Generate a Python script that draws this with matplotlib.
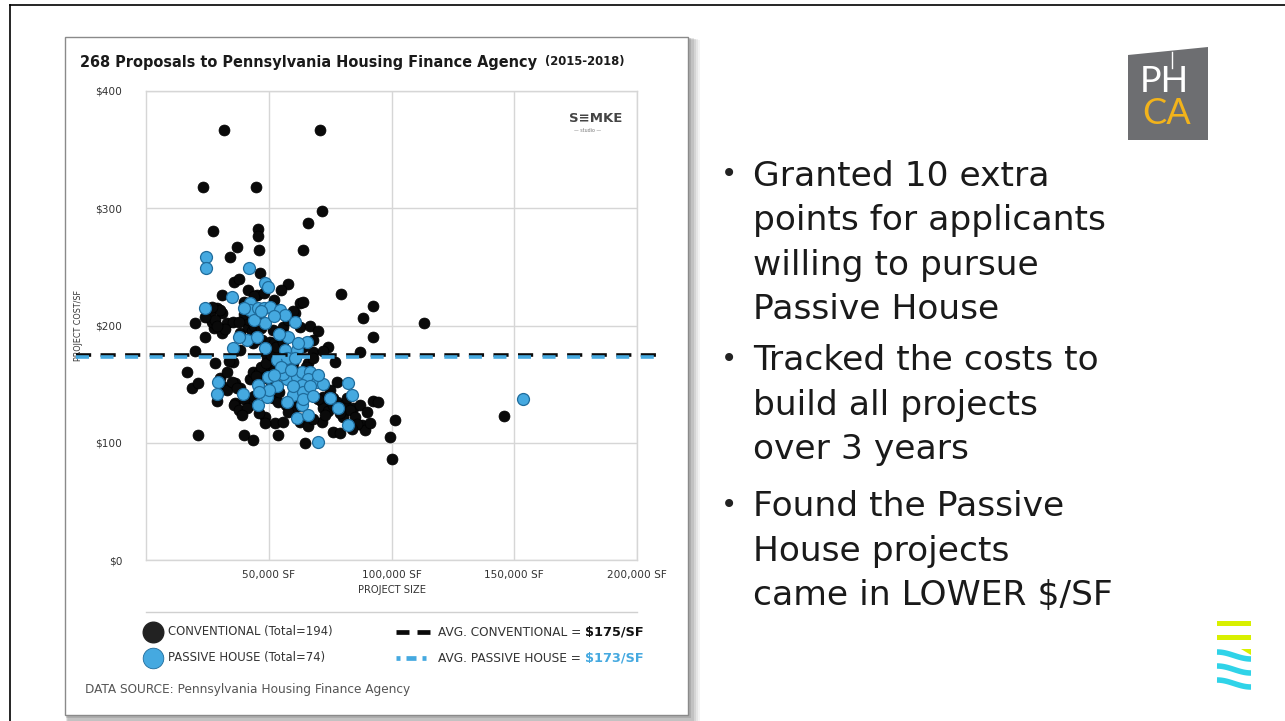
import matplotlib.pyplot as plt
import matplotlib.patches as mpatches
import numpy as np

# ── data: project size (thousand SF) and cost ($/SF) ────────────────────────
conv_size_k = [31.8, 70.9, 23.2, 44.8, 71.7, 66.0, 27.3, 45.6, 45.6, 37.1,
               46.0, 64.0, 34.2, 46.5, 35.9, 41.6, 45.2, 31.0, 57.9, 79.5,
               62.8, 64.0, 92.5, 88.4, 60.7, 113.3, 28.9, 31.0, 51.8, 26.1,
               20.0, 27.7, 31.0, 33.0, 35.5, 38.3, 41.6, 44.4, 51.8, 55.8,
               56.6, 62.8, 92.5, 43.6, 47.3, 50.5, 49.3, 38.3, 64.0, 74.2,
               77.0, 68.1, 87.2, 16.7, 18.7, 21.2, 28.9, 36.3, 38.3, 42.4,
               43.6, 49.3, 36.3, 42.4, 48.5, 51.8, 53.4, 53.8, 61.9, 72.1,
               71.7, 75.0, 76.2, 80.3, 77.8, 84.4, 87.2, 92.5, 94.5, 71.7,
               76.2, 79.1, 80.3, 88.0, 89.2, 91.3, 101.5, 99.4, 100.2, 21.2,
               39.9, 43.6, 53.8, 52.6, 48.5, 64.8, 62.8, 145.9, 26.9, 35.5,
               43, 44, 45, 46, 42, 47, 40, 38,
               46, 48, 50, 51, 47, 52, 45, 49,
               72, 74, 76, 78, 81, 83, 70, 79, 73, 82, 85,
               50, 52, 54, 55, 51, 53, 56,
               31, 33, 35, 37, 30, 33,
               36, 38, 40, 41, 39,
               57, 59, 60, 61, 58, 62, 63,
               26, 28, 30, 32, 29, 24, 27,
               58, 60, 62, 56, 66, 68, 65,
               44, 48, 40, 52, 55, 38,
               67, 70, 68, 72, 58, 60,
               86, 84, 90, 66, 68, 56, 46, 44,
               34, 28, 47, 54, 64, 75, 20, 24]
conv_cost = [367, 367, 318, 318, 298, 287, 281, 282, 276, 267,
             264, 264, 258, 245, 237, 230, 226, 226, 235, 227,
             219, 220, 217, 206, 211, 202, 215, 211, 217, 206,
             202, 198, 194, 202, 203, 194, 199, 205, 196, 199,
             192, 199, 190, 185, 188, 186, 173, 179, 182, 182,
             169, 177, 177, 160, 147, 151, 136, 151, 147, 154,
             160, 162, 134, 132, 122, 138, 149, 135, 141, 139,
             135, 135, 138, 128, 152, 130, 132, 136, 135, 118,
             109, 108, 122, 115, 111, 117, 119, 105, 86, 107,
             107, 102, 107, 117, 117, 100, 118, 123, 203, 169,
             195, 200, 192, 208, 205, 198, 210, 203,
             160, 155, 158, 152, 165, 163, 157, 168,
             130, 127, 132, 135, 133, 128, 137, 125, 124, 138, 122,
             180, 185, 176, 190, 175, 182, 186,
             148, 145, 152, 147, 155, 160,
             132, 128, 137, 130, 124,
             132, 137, 128, 135, 126, 140, 131,
             210, 205, 213, 197, 200, 207, 216,
             165, 168, 160, 170, 168, 172, 165,
             225, 228, 220, 222, 230, 240,
             200, 195, 188, 178, 205, 212,
             116, 112, 126, 114, 120, 118, 125, 140,
             170, 168, 145, 143, 150, 145, 178, 190]

ph_size_k = [24.5, 24.5, 42.0, 48.5, 49.7, 35.0, 24.0, 42.4, 42.4, 45.6,
             48.1, 50.5, 54.6, 56.6, 60.7, 48.5, 41.2, 45.2, 48.5, 35.5,
             56.6, 61.5, 65.6, 53.4, 57.5, 60.7, 29.3, 28.9, 39.5, 45.6,
             49.7, 49.3, 45.6, 53.4, 57.5, 59.9, 57.5, 55.8, 61.5, 63.6,
             66.8, 66.0, 69.7, 63.6, 64.0, 66.8, 63.6, 78.2, 82.3, 83.9,
             61.5, 66.0, 82.3, 70.1, 153.6,
             44, 47, 52, 58, 62, 55, 52, 60, 64, 68,
             72, 70, 50, 46, 40, 38, 54, 59, 75]
ph_cost = [258, 249, 249, 236, 233, 224, 215, 219, 213, 215,
           215, 216, 213, 209, 203, 202, 188, 190, 181, 181,
           179, 179, 186, 171, 172, 172, 152, 142, 142, 149,
           156, 139, 132, 148, 154, 141, 135, 159, 156, 160,
           160, 154, 152, 149, 143, 148, 132, 130, 151, 141,
           121, 124, 115, 101, 137,
           205, 212, 208, 190, 185, 165, 158, 148, 137, 140,
           150, 158, 145, 143, 215, 190, 193, 162, 138]

avg_conv = 175
avg_ph = 173
n_conv = 194
n_ph = 74

x_ticks = [50000, 100000, 150000, 200000]
y_ticks = [0, 100, 200, 300, 400]

BLACK = "#0a0a0a"
BLUE = "#45a9e0"
BLUE_EDGE = "#1f6c9c"
GRID = "#d6d6d6"
TXT = "#333333"
CHART_FONT = "DejaVu Sans"

W, H = 1285, 721
fig = plt.figure(figsize=(W / 100, H / 100), dpi=100)
fig.patch.set_facecolor("white")

# background canvas in pixel coordinates
bg = fig.add_axes([0, 0, 1, 1])
bg.set_xlim(0, W)
bg.set_ylim(H, 0)
bg.axis("off")

# slide frame
bg.plot([10, W], [5, 5], color="black", lw=1.2)
bg.plot([10, 10], [5, H], color="black", lw=1.2)

# chart card with soft shadow
for i, a in enumerate([0.06, 0.08, 0.10, 0.13, 0.16]):
    off = 10 - i * 1.8
    bg.add_patch(mpatches.Rectangle((65 + off * 0.3, 37 + off * 0.3), 623 + off * 0.9, 678 + off * 0.9,
                                    facecolor="#444444", edgecolor="none", alpha=a, zorder=1))
bg.add_patch(mpatches.Rectangle((65, 37), 623, 678, facecolor="white",
                                edgecolor="#8a8a8a", lw=1.0, zorder=2))

# title
t1 = bg.text(80, 62, "268 Proposals to Pennsylvania Housing Finance Agency", fontsize=10.45,
             fontweight="bold", family=CHART_FONT, color="#1a1a1a", va="center", zorder=3)
bg.annotate("  (2015-2018)", xy=(1, 0.5), xycoords=t1, fontsize=8.4, fontweight="bold",
            family=CHART_FONT, color="#1a1a1a", va="center", zorder=3)

# ── scatter axes ────────────────────────────────────────────────────────────
ax_l, ax_r, ax_t, ax_b = 146, 637, 91, 560
ax = fig.add_axes([ax_l / W, 1 - ax_b / H, (ax_r - ax_l) / W, (ax_b - ax_t) / H])
ax.set_facecolor("none")
ax.set_xlim(0, 200000)
ax.set_ylim(0, 400)
for s in ax.spines.values():
    s.set_color(GRID)
    s.set_linewidth(1.0)
ax.set_xticks(x_ticks)
ax.set_yticks(y_ticks)
ax.grid(True, color=GRID, lw=1.0)
ax.tick_params(length=0, colors=TXT, labelsize=7.6)
ax.tick_params(axis="x", pad=7)
ax.tick_params(axis="y", pad=17)
ax.set_xticklabels([f"{v:,} SF" for v in x_ticks], family=CHART_FONT)
ax.set_yticklabels([f"\\${v}" for v in y_ticks], family=CHART_FONT)
ax.set_xlabel("PROJECT SIZE", fontsize=7.2, color=TXT, family=CHART_FONT, labelpad=4)
ax.set_ylabel("PROJECT COST/SF", fontsize=5.8, color=TXT, family=CHART_FONT, labelpad=9)

ax.scatter(np.array(conv_size_k) * 1000, conv_cost, s=62, color=BLACK, edgecolor="#000000",
           lw=0.5, zorder=3)
ax.scatter(np.array(ph_size_k) * 1000, ph_cost, s=74, color=BLUE, edgecolor=BLUE_EDGE,
           lw=0.9, zorder=4)

# average lines run past the frame on both sides
ax.plot([-28500, 211000], [avg_conv, avg_conv], color=BLACK, lw=2.6, dashes=(4.2, 2.6),
        clip_on=False, zorder=5, dash_capstyle="butt")
ax.plot([-28500, 211000], [avg_ph, avg_ph], color=BLUE, lw=2.6, dashes=(3.6, 3.2),
        dash_capstyle="butt", clip_on=False, zorder=5)

# studio mark
ax.text(0.97, 0.942, "S\u2261MKE", transform=ax.transAxes, ha="right", va="center",
        fontsize=9.5, fontweight="bold", family="DejaVu Sans", color="#444444")
ax.text(0.9, 0.915, "\u2014 studio \u2014", transform=ax.transAxes, ha="center", va="center",
        fontsize=3.4, color="#777777")

# ── legend block ────────────────────────────────────────────────────────────
bg.plot([146, 637], [612, 612], color="#d0d0d0", lw=1.0, zorder=3)
bg.scatter([153], [632], s=220, color="#222222", zorder=3)
bg.scatter([153], [658], s=220, color=BLUE, edgecolor=BLUE_EDGE, lw=0.6, zorder=3)
bg.text(168, 632, f"CONVENTIONAL (Total={n_conv})", fontsize=8.4, color=TXT, family=CHART_FONT,
        va="center", zorder=3)
bg.text(168, 658, f"PASSIVE HOUSE (Total={n_ph})", fontsize=8.4, color=TXT, family=CHART_FONT,
        va="center", zorder=3)

bg.plot([396, 409], [632, 632], color=BLACK, lw=3.4, zorder=3, solid_capstyle="butt")
bg.plot([417, 430], [632, 632], color=BLACK, lw=3.4, zorder=3, solid_capstyle="butt")
bg.plot([396, 400], [658, 658], color=BLUE, lw=3.4, zorder=3, solid_capstyle="butt")
bg.plot([406, 416], [658, 658], color=BLUE, lw=3.4, zorder=3, solid_capstyle="butt")
bg.plot([422, 426], [658, 658], color=BLUE, lw=3.4, zorder=3, solid_capstyle="butt")

l1 = bg.text(438, 632, "AVG. CONVENTIONAL = ", fontsize=8.7, color=TXT, family=CHART_FONT,
             va="center", zorder=3)
bg.annotate(f"\\${avg_conv}/SF", xy=(1, 0.5), xycoords=l1, fontsize=9.3, fontweight="bold",
            color="#111111", family=CHART_FONT, va="center", zorder=3)
l2 = bg.text(438, 658, "AVG. PASSIVE HOUSE = ", fontsize=8.7, color=TXT, family=CHART_FONT,
             va="center", zorder=3)
bg.annotate(f"\\${avg_ph}/SF", xy=(1, 0.5), xycoords=l2, fontsize=9.3, fontweight="bold",
            color=BLUE, family=CHART_FONT, va="center", zorder=3)

bg.text(85, 689, "DATA SOURCE: Pennsylvania Housing Finance Agency", fontsize=8.7,
        color="#555555", family=CHART_FONT, va="center", zorder=3)

# ── bullet text on the right ────────────────────────────────────────────────
bullets = [
    (["Granted 10 extra", "points for applicants", "willing to pursue", "Passive House"], 176),
    (["Tracked the costs to", "build all projects", "over 3 years"], 361),
    (["Found the Passive", "House projects", "came in LOWER \\$/SF"], 507),
]
for lines, y0 in bullets:
    bg.text(729, y0 - 2, "\u2022", fontsize=20, color="#222222", va="center", ha="center")
    for k, line in enumerate(lines):
        bg.text(753, y0 + k * 44.5, line, fontsize=24.8, color="#1a1a1a", family="DejaVu Sans",
                va="center")

# ── PHCA logo ───────────────────────────────────────────────────────────────
bg.add_patch(mpatches.Polygon([(1128, 55), (1208, 47), (1208, 140), (1128, 140)],
                              closed=True, facecolor="#6d6e71", edgecolor="none"))
bg.plot([1172, 1172], [52, 68], color="white", lw=1.0)
bg.text(1164, 81, "PH", fontsize=26, color="white", family="Lato",
        ha="center", va="center")
bg.text(1167, 114, "CA", fontsize=26, color="#f2b31b", family="Lato",
        ha="center", va="center")

# ── wave logo bottom right ──────────────────────────────────────────────────
bg.add_patch(mpatches.Rectangle((1217, 621), 34, 4.5, facecolor="#d8f000", edgecolor="none"))
bg.add_patch(mpatches.Rectangle((1217, 635), 34, 4.5, facecolor="#d8f000", edgecolor="none"))
bg.add_patch(mpatches.Polygon([(1241, 649), (1251, 649), (1251, 655)], closed=True,
                              facecolor="#d8f000", edgecolor="none"))
wx = np.linspace(1217, 1251, 40)
for y0 in [652, 666, 680]:
    wy = y0 + 7 * (1 - np.cos(np.pi * (wx - 1217) / 34)) / 2
    bg.plot(wx, wy, color="#2fd3e8", lw=4.0, solid_capstyle="butt")

fig.savefig("out.png", dpi=100, facecolor="white")
